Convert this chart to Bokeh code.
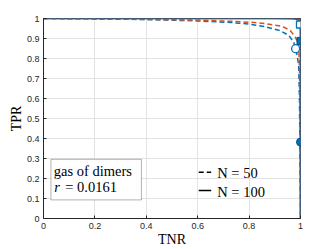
from bokeh.plotting import figure
from bokeh.models import FixedTicker, Label, BoxAnnotation, Range1d
from bokeh.embed import file_html
from bokeh.resources import INLINE

# ROC curves (TNR, TPR)
tnr_blue_50 = [0, 0.2, 0.4, 0.6, 0.73, 0.8, 0.86, 0.92, 0.955, 0.974, 0.981, 0.988, 0.993, 0.996, 0.998, 1.0]
tpr_blue_50 = [1, 0.998, 0.995, 0.988, 0.98, 0.972, 0.96, 0.94, 0.915, 0.88, 0.849, 0.81, 0.76, 0.6, 0.3, 0]
tnr_orange_50 = [0, 0.3, 0.6, 0.75, 0.82, 0.86, 0.93, 0.96, 0.98, 0.993, 0.996, 0.998, 1.0]
tpr_orange_50 = [1, 0.997, 0.992, 0.985, 0.98, 0.975, 0.96, 0.94, 0.907, 0.87, 0.75, 0.5, 0]
tnr_blue_100 = [0, 0.9, 0.97, 0.99, 0.996, 0.999, 1.0, 1.0]
tpr_blue_100 = [1, 1, 0.999, 0.995, 0.985, 0.96, 0.9, 0]
tnr_orange_100 = [0, 0.985, 0.996, 1.0, 1.0]
tpr_orange_100 = [1, 1, 0.997, 0.985, 0]

# marked operating points
open_circle = ([0.981], [0.849])
open_square = ([0.998], [0.97])
filled_square = ([1.0], [0.888])
filled_circle = ([1.0], [0.382])

x_ticks = [0, 0.2, 0.4, 0.6, 0.8, 1]
y_ticks = [0, 0.1, 0.2, 0.3, 0.4, 0.5, 0.6, 0.7, 0.8, 0.9, 1]

BLUE = "#0072BD"
ORANGE = "#D95319"
AX = "#262626"
FS = "14.5px"

p = figure(width=332, height=249, output_backend="svg", toolbar_location=None,
           x_range=Range1d(0, 1), y_range=Range1d(0, 1),
           min_border_left=43, min_border_right=32, min_border_top=18, min_border_bottom=31)
p.outline_line_color = AX
p.background_fill_color = "white"
p.border_fill_color = "white"

for ax in (p.xaxis[0], p.yaxis[0]):
    ax.major_tick_in = 3
    ax.major_tick_out = 0
    ax.minor_tick_line_color = None
    ax.axis_line_color = AX
    ax.major_tick_line_color = AX
    ax.major_label_text_font = "Liberation Sans"
    ax.major_label_text_font_size = "9px"
    ax.major_label_text_color = AX
    ax.major_label_standoff = 4
    ax.axis_label_text_font = "Liberation Serif"
    ax.axis_label_text_font_size = "14px"
    ax.axis_label_text_font_style = "normal"
    ax.axis_label_text_color = "black"
    ax.axis_label_standoff = 0

p.xaxis[0].ticker = FixedTicker(ticks=x_ticks)
p.yaxis[0].ticker = FixedTicker(ticks=y_ticks)
p.xaxis[0].major_label_overrides = {0: "0", 1: "1"}
p.yaxis[0].major_label_overrides = {0: "0", 1: "1"}
p.xaxis[0].axis_label = "TNR"
p.yaxis[0].axis_label = "TPR"

p.xgrid.ticker = FixedTicker(ticks=x_ticks)
p.ygrid.ticker = FixedTicker(ticks=y_ticks)
p.grid.grid_line_color = "#e3e3e3"

p.line(tnr_orange_100, tpr_orange_100, color=ORANGE, line_width=1.5)
p.line(tnr_blue_50, tpr_blue_50, color=BLUE, line_width=1.5, line_dash="5 3")
p.line(tnr_orange_50, tpr_orange_50, color=ORANGE, line_width=1.5, line_dash="5 3")
p.line(tnr_blue_100, tpr_blue_100, color=BLUE, line_width=1.5)

p.scatter(*open_circle, marker="circle", size=8, fill_color="white", line_color=BLUE, line_width=1.3)
p.scatter(*open_square, marker="square", size=7, fill_color="white", line_color=BLUE, line_width=1.3)
p.scatter(*filled_square, marker="square", size=7, fill_color=BLUE, line_color="#0b4f80", line_width=1)
p.scatter(*filled_circle, marker="circle", size=8, fill_color=BLUE, line_color="#0b4f80", line_width=1)

# annotation box
p.add_layout(BoxAnnotation(left=0.029, right=0.381, bottom=0.093, top=0.296,
                           fill_color="white", fill_alpha=1, line_color="black", line_width=1,
                           level="annotation"))
p.add_layout(Label(x=0.04, y=0.24, text="gas of dimers", text_font="Liberation Serif",
                   text_font_size=FS, text_baseline="middle", text_color="black"))
p.add_layout(Label(x=0.042, y=0.158, text="r", text_font="Liberation Serif",
                   text_font_size=FS, text_font_style="italic", text_baseline="middle",
                   text_color="black"))
p.add_layout(Label(x=0.042, y=0.158, x_offset=11, text="= 0.0161", text_font="Liberation Serif",
                   text_font_size=FS, text_baseline="middle", text_color="black"))

# N legend
p.line([0.604, 0.6525], [0.2315, 0.2315], color="black", line_width=1.5, line_dash="5 3")
p.line([0.604, 0.6525], [0.14, 0.14], color="black", line_width=1.5)
p.add_layout(Label(x=0.676, y=0.228, text="N = 50", text_font="Liberation Serif",
                   text_font_size=FS, text_baseline="middle", text_color="black"))
p.add_layout(Label(x=0.676, y=0.133, text="N = 100", text_font="Liberation Serif",
                   text_font_size=FS, text_baseline="middle", text_color="black"))

open("out.html", "w").write(file_html(p, INLINE))
